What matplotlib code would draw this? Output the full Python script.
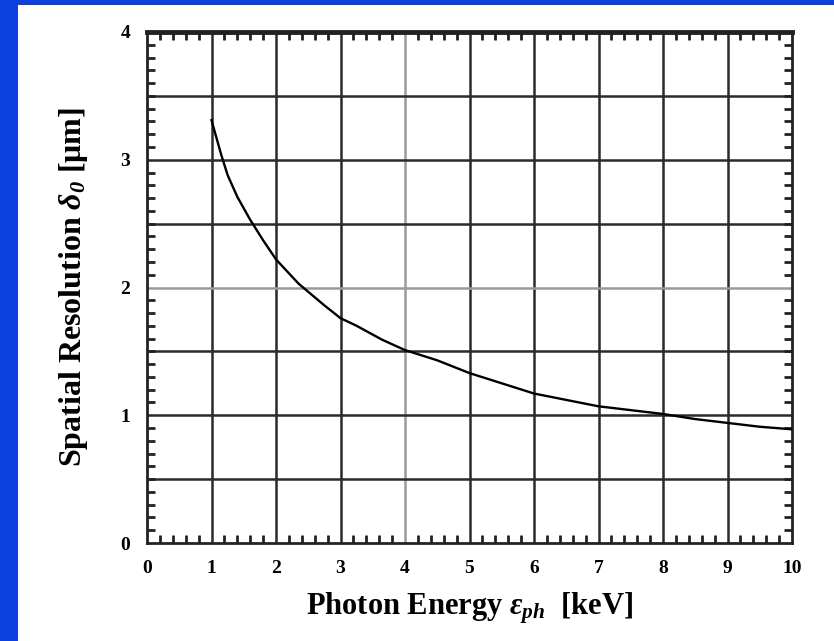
import matplotlib
matplotlib.use("Agg")
import matplotlib.pyplot as plt
from matplotlib.patches import Rectangle
from matplotlib.ticker import MultipleLocator

energy_kev = [1.0, 1.05, 1.15, 1.25, 1.4, 1.6, 1.8, 2.0, 2.35, 2.75, 3.0, 3.25, 3.65,
              4.0, 4.5, 5.0, 5.5, 6.0, 6.5, 7.0, 7.5, 8.0, 8.5, 9.0, 9.5, 10.0]
resolution_um = [3.31, 3.22, 3.04, 2.88, 2.71, 2.53, 2.37, 2.22, 2.03, 1.86, 1.76, 1.70, 1.59,
                 1.51, 1.43, 1.33, 1.25, 1.17, 1.12, 1.07, 1.04, 1.01, 0.97, 0.94, 0.91, 0.89]
x_ticks = [0, 1, 2, 3, 4, 5, 6, 7, 8, 9, 10]
y_ticks = [0, 1, 2, 3, 4]

plt.rcParams['font.family'] = ['Liberation Serif', 'DejaVu Serif']
plt.rcParams['font.weight'] = 'bold'
plt.rcParams['mathtext.fontset'] = 'custom'
plt.rcParams['mathtext.rm'] = 'Liberation Serif:bold'
plt.rcParams['mathtext.it'] = 'Liberation Serif:italic:bold'
plt.rcParams['mathtext.bf'] = 'Liberation Serif:bold'
plt.rcParams['mathtext.sf'] = 'Liberation Serif:italic'

fig = plt.figure(figsize=(8.34, 6.41), dpi=100)
fig.patch.set_facecolor('#0c3fe0')
bg = Rectangle((18 / 834, 0), 1 - 18 / 834, 1 - 5 / 641,
               transform=fig.transFigure, facecolor='white',
               edgecolor='none', zorder=-10)
fig.add_artist(bg)

ax = fig.add_axes([147 / 834, 1 - 543 / 641, (792 - 147) / 834, (543 - 32) / 641])
ax.set_facecolor('white')

ax.set_xlim(0, 10)
ax.set_ylim(0, 4)

# grid
for xv in range(1, 10):
    ax.axvline(xv, color='#9a9a9a' if xv == 4 else '#2b2b2b', lw=1.8, zorder=1)
for k in range(1, 8):
    yv = k * 0.5
    ax.axhline(yv, color='#9a9a9a' if yv == 2 else '#2b2b2b', lw=1.8, zorder=1)

ax.plot(energy_kev, resolution_um, color='black', lw=1.7, zorder=3)

ax.set_xticks(x_ticks)
ax.set_yticks(y_ticks)
ax.xaxis.set_minor_locator(MultipleLocator(0.2))
ax.yaxis.set_minor_locator(MultipleLocator(0.1))
ax.tick_params(which='both', direction='in', top=True, right=True, color='#222222')
ax.tick_params(which='major', length=0, labelsize=14)
ax.tick_params(axis='x', which='major', pad=12)
ax.tick_params(axis='y', which='major', pad=12)
ax.tick_params(which='minor', length=6, width=2)
for lab in ax.get_xticklabels() + ax.get_yticklabels():
    lab.set_fontweight('bold')

for name, sp in ax.spines.items():
    sp.set_color('#222222')
    sp.set_linewidth(2.0)
ax.spines['top'].set_linewidth(3.5)

ax.set_xlabel(r'Photon Energy $\varepsilon_{\mathsf{ph}}$  [keV]', fontsize=22,
              fontweight='bold', labelpad=10)
ax.set_ylabel(r'Spatial Resolution $\delta_{\mathsf{0}}$ [$\mathrm{\mu}$m]', fontsize=23,
              fontweight='bold', labelpad=22)

fig.savefig('out.png', dpi=100, facecolor=fig.get_facecolor())
